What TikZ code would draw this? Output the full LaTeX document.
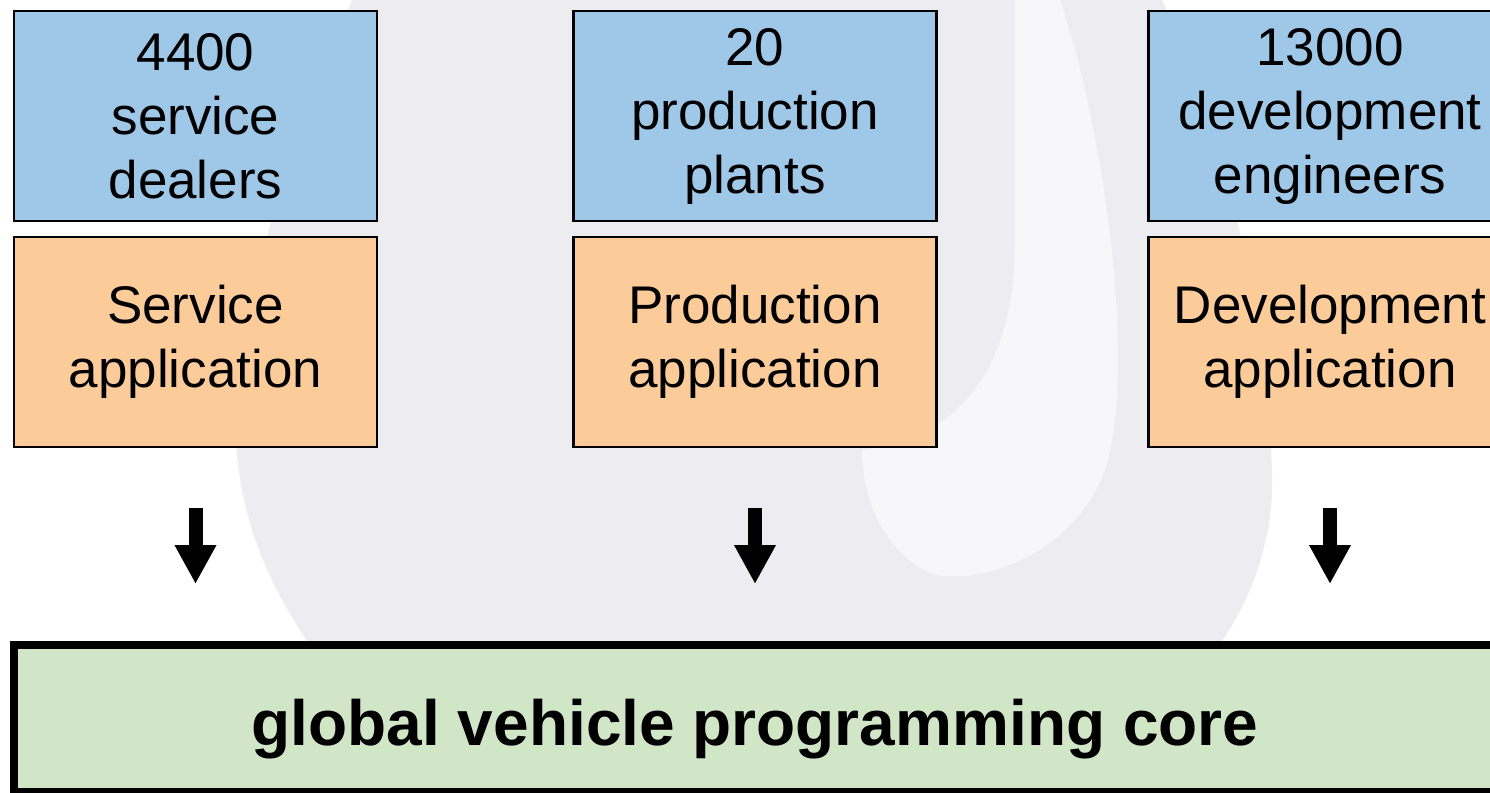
\documentclass[tikz,border=0pt]{standalone}
\usepackage{fontspec}
\setmainfont{Liberation Sans}
\usetikzlibrary{positioning,arrows.meta}

\definecolor{siteblue}{RGB}{158,199,232}
\definecolor{appsand}{RGB}{251,203,153}
\definecolor{coregreen}{RGB}{209,230,199}
\definecolor{globegray}{RGB}{237,237,241}

\tikzset{
  box/.style={draw=black, line width=1.25pt, minimum width=181.5pt, minimum height=105pt,
    inner sep=0pt, align=center, font=\fontsize{26.5}{32}\selectfont},
  sitebox/.style={box, fill=siteblue},
  appbox/.style={box, fill=appsand, below=6.75pt of #1},
  corebox/.style={draw=black, line width=4pt, fill=coregreen, minimum width=741.5pt,
    minimum height=73.5pt, inner sep=0pt, text height=26.5pt, text depth=0pt,
    font=\fontsize{32}{38}\selectfont\bfseries},
  feed/.style={line width=7pt, -{Triangle[width=19.5pt,length=19.5pt]},
    shorten <=30pt, shorten >=28.5pt},
}

\begin{document}
\begin{tikzpicture}[x=0.5pt, y=-0.5pt]
  \useasboundingbox (0,0) rectangle (1490,793);

  % faint globe behind the boxes
  \fill[globegray] (352,0) .. controls (290,150) and (225,330) .. (237,455)
    .. controls (245,540) and (280,600) .. (307,641) -- (1222,641)
    .. controls (1250,600) and (1275,540) .. (1272,470)
    .. controls (1265,300) and (1220,120) .. (1162,0) -- cycle;
  \fill[white, opacity=.6] (1015,0) -- (1060,0) .. controls (1110,150) and (1135,380) .. (1105,470)
    .. controls (1080,540) and (1000,585) .. (935,575)
    .. controls (885,555) and (862,500) .. (862,450)
    .. controls (950,440) and (1012,380) .. (1015,250) -- cycle;

  \node[sitebox] (svc) at (195.5,116) {4400\\service\\dealers};
  \node[sitebox] (prod) at (755,116) {20\\production\\plants};
  \node[sitebox] (dev) at (1330,116) {13000\\development\\engineers};

  \node[appbox=svc] (svcapp) {Service\\application};
  \node[appbox=prod] (prodapp) {Production\\application};
  \node[appbox=dev] (devapp) {Development\\application};

  \node[corebox] (core) at (755,718.5) {global vehicle programming core};

  \draw[feed] (svcapp) -- (svcapp |- core.north);
  \draw[feed] (prodapp) -- (prodapp |- core.north);
  \draw[feed] (devapp) -- (devapp |- core.north);
\end{tikzpicture}
\end{document}
